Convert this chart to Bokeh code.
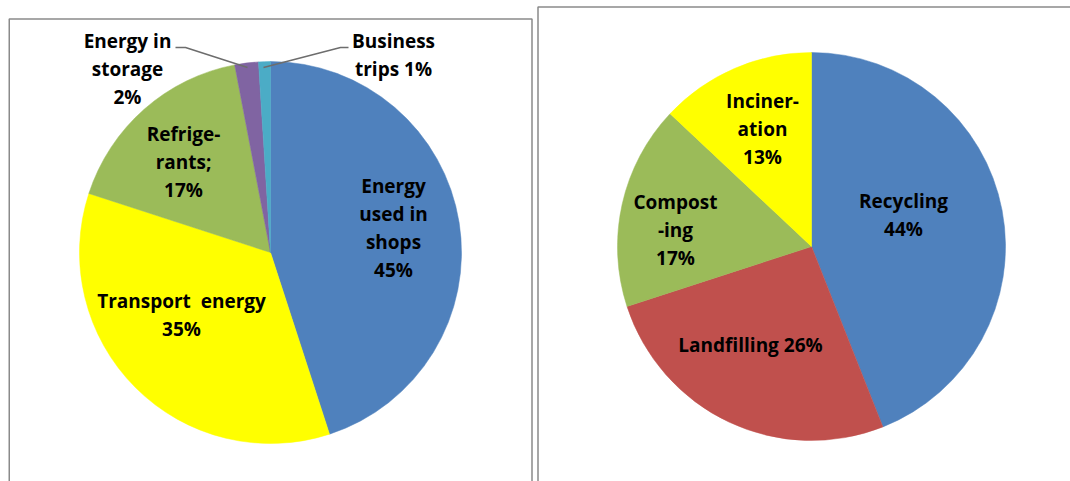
import numpy as np
from bokeh.plotting import figure
from bokeh.models import Range1d, ColumnDataSource
from bokeh.core.properties import value
from bokeh.embed import file_html
from bokeh.resources import INLINE

# ---------------- data ----------------
left_categories = ["Energy used in shops", "Transport energy", "Refrigerants",
                   "Energy in storage", "Business trips"]
left_values = [45, 35, 17, 2, 1]
left_colors = ["#4F81BD", "#FFFF00", "#9BBB59", "#8064A2", "#4BACC6"]
left_label_lines = [["Energy", "used in", "shops"], ["Transport\u00a0\u00a0energy"],
                    ["Refrige-", "rants;"], ["Energy in", "storage"], ["Business", "trips"]]
left_pct_inline = [False, False, False, False, True]

right_categories = ["Recycling", "Landfilling", "Composting", "Incineration"]
right_values = [44, 26, 17, 13]
right_colors = ["#4F81BD", "#C0504D", "#9BBB59", "#FFFF00"]
right_label_lines = [["Recycling"], ["Landfilling"], ["Compost", "-ing"], ["Inciner-", "ation"]]
right_pct_inline = [False, True, False, False]

# ---------------- layout (page pixels) ----------------
PAGE_W = 1070
PAGE_H = 481
def Y(py):
    return PAGE_H - py

left_center = (270, 252)
left_radius = 191
right_center = (811, 246)
right_radius = 194

left_label_pos = [(393, 185), (181, 300), (183, 133), (127, 40), (393, 40)]
right_label_pos = [(903, 200), (750, 344), (675, 201), (762, 100)]
LINE_H = 28

p = figure(width=PAGE_W, height=PAGE_H, x_range=Range1d(0, PAGE_W), y_range=Range1d(0, PAGE_H),
           x_axis_type=None, y_axis_type=None, output_backend="svg",
           toolbar_location=None, min_border=0)
p.grid.visible = False
p.outline_line_color = None
p.background_fill_color = "white"
p.border_fill_color = "white"

def draw_pie(cats, vals, colors, center, radius):
    vals = np.array(vals, dtype=float)
    frac = vals / vals.sum()
    cum = np.concatenate([[0], np.cumsum(frac)])
    start = np.pi / 2 - cum[:-1] * 2 * np.pi
    end = np.pi / 2 - cum[1:] * 2 * np.pi
    src = ColumnDataSource(dict(cat=cats, start=start, end=end, color=colors))
    p.wedge(x=center[0], y=Y(center[1]), radius=radius, start_angle="start",
            end_angle="end", direction="clock", fill_color="color",
            line_color="color", line_width=0.5, source=src)

def draw_labels(lines_list, vals, inline, positions):
    xs, ys, ts = [], [], []
    for lines, v, inl, (lx, ly) in zip(lines_list, vals, inline, positions):
        lines = list(lines)
        if inl:
            lines[-1] = f"{lines[-1]} {v}%"
        else:
            lines.append(f"{v}%")
        for i, t in enumerate(lines):
            xs.append(lx)
            ys.append(Y(ly + i * LINE_H))
            ts.append(t)
    p.text(x=xs, y=ys, text=ts, text_font=value("Open Sans"), text_font_style="bold",
           text_font_size="19px", text_align="center", text_baseline="middle",
           text_color="#000000")

draw_pie(left_categories, left_values, left_colors, left_center, left_radius)
draw_pie(right_categories, right_values, right_colors, right_center, right_radius)
draw_labels(left_label_lines, left_values, left_pct_inline, left_label_pos)
draw_labels(right_label_lines, right_values, right_pct_inline, right_label_pos)

# leader lines for the small slices
p.line(x=[175, 185, 247], y=[Y(47), Y(47), Y(67)], line_color="#6d6d6d", line_width=1.5)
p.line(x=[263, 340, 348], y=[Y(67), Y(47), Y(47)], line_color="#6d6d6d", line_width=1.5)

# panel frames
p.line(x=[8.75, 8.75, 531.5, 531.5], y=[Y(495), Y(18.5), Y(18.5), Y(495)],
       line_color="#8a8a8a", line_width=1.5)
p.line(x=[537.5, 537.5, 1080], y=[Y(495), Y(6.5), Y(6.5)],
       line_color="#8a8a8a", line_width=1.5)

open("out.html", "w").write(file_html(p, INLINE))
